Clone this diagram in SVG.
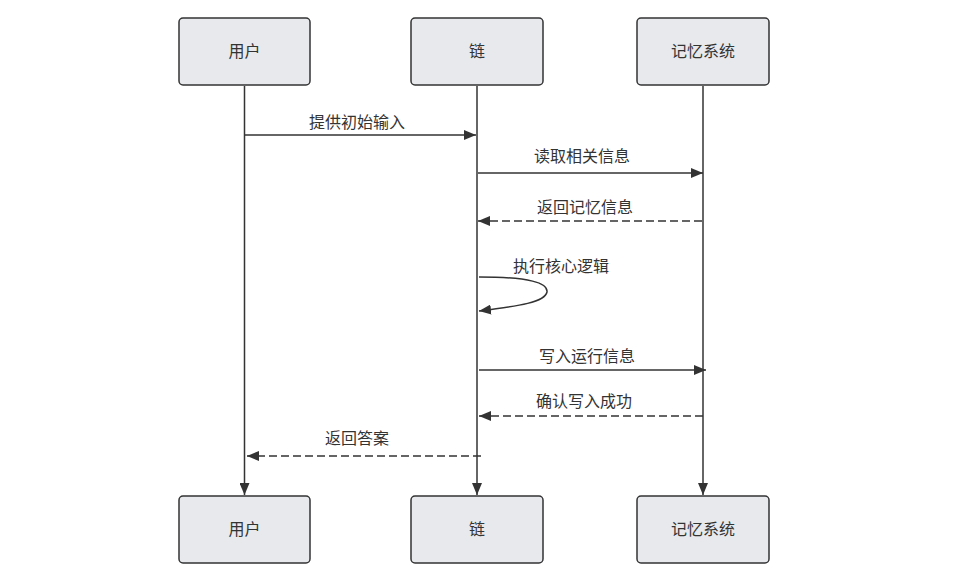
<svg xmlns="http://www.w3.org/2000/svg" width="975" height="586" viewBox="0 0 975 586">
<style>
.box{fill:#e7e9ec;stroke:#333;stroke-width:1.5}
.t{font-family:"Liberation Sans","Noto Sans CJK SC",sans-serif;font-size:16px;fill:#333;text-anchor:middle}
.life{stroke:#333;stroke-width:1.5;fill:none}
.msg{stroke:#333;stroke-width:1.5;fill:none}
.dash{stroke-dasharray:8,4}
</style>
<defs>
<marker id="ah" viewBox="0 0 12 10" refX="12" refY="5" markerWidth="12" markerHeight="10" markerUnits="userSpaceOnUse" orient="auto">
<path d="M0,0 L12,5 L0,10 z" fill="#333"/>
</marker>
</defs>
<rect width="975" height="586" fill="#fff"/>
<g id="connectors">
<line class="life" x1="244.5" y1="86" x2="244.5" y2="495" marker-end="url(#ah)"/>
<line class="life" x1="477" y1="86" x2="477" y2="495" marker-end="url(#ah)"/>
<line class="life" x1="703" y1="86" x2="703" y2="495" marker-end="url(#ah)"/>
<line class="msg" x1="245" y1="135" x2="476" y2="135" marker-end="url(#ah)"/>
<text class="t" x="357" y="128">提供初始输入</text>
<line class="msg" x1="478" y1="173" x2="703" y2="173" marker-end="url(#ah)"/>
<text class="t" x="582" y="162">读取相关信息</text>
<line class="msg dash" x1="702" y1="221" x2="478" y2="221" marker-end="url(#ah)"/>
<text class="t" x="585" y="213">返回记忆信息</text>
<path class="msg" d="M479,277 C530,277 548,283 547,292 C545,302 520,306 479,311" marker-end="url(#ah)"/>
<text class="t" x="561" y="272">执行核心逻辑</text>
<line class="msg" x1="479" y1="370" x2="706" y2="370" marker-end="url(#ah)"/>
<text class="t" x="587" y="362">写入运行信息</text>
<line class="msg dash" x1="703" y1="416" x2="479" y2="416" marker-end="url(#ah)"/>
<text class="t" x="584" y="407">确认写入成功</text>
<line class="msg dash" x1="481" y1="456" x2="247" y2="456" marker-end="url(#ah)"/>
<text class="t" x="357" y="444">返回答案</text>
</g>
<g id="user-top"><rect class="box" x="179" y="18" width="131" height="67" rx="4"/><text class="t" x="244.5" y="57">用户</text></g>
<g id="chain-top"><rect class="box" x="411" y="18" width="132" height="67" rx="4"/><text class="t" x="477" y="57">链</text></g>
<g id="memory-top"><rect class="box" x="637" y="18" width="132" height="67" rx="4"/><text class="t" x="703" y="57">记忆系统</text></g>
<g id="user-bottom"><rect class="box" x="179" y="496" width="131" height="67" rx="4"/><text class="t" x="244.5" y="535">用户</text></g>
<g id="chain-bottom"><rect class="box" x="411" y="496" width="132" height="67" rx="4"/><text class="t" x="477" y="535">链</text></g>
<g id="memory-bottom"><rect class="box" x="637" y="496" width="132" height="67" rx="4"/><text class="t" x="703" y="535">记忆系统</text></g>
</svg>
